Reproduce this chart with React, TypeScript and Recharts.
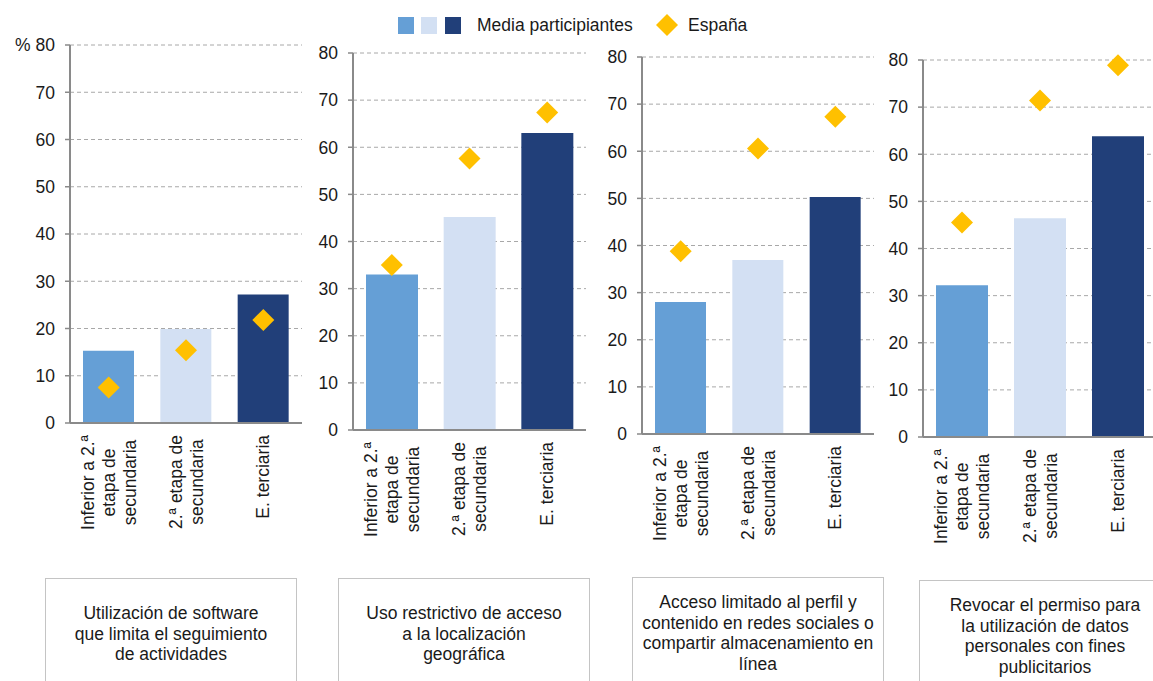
import React from "react";
import {
  ComposedChart,
  Bar,
  Scatter,
  Cell,
  XAxis,
  YAxis,
  CartesianGrid,
} from "recharts";

// categorías (eje X) y sus líneas de etiqueta
const categories = [
  "Inferior a 2.ª etapa de secundaria",
  "2.ª etapa de secundaria",
  "E. terciaria",
];
const categoryLines = [
  ["Inferior a 2.ª", "etapa de", "secundaria"],
  ["2.ª etapa de", "secundaria"],
  ["E. terciaria"],
];

const yTicks = [0, 10, 20, 30, 40, 50, 60, 70, 80];

// Media participiantes / España, por panel
const mediaSoftware = [15.3, 19.9, 27.2];
const espanaSoftware = [7.5, 15.4, 21.8];

const mediaLocalizacion = [33.0, 45.2, 63.0];
const espanaLocalizacion = [35.0, 57.6, 67.4];

const mediaPerfil = [28.0, 36.9, 50.3];
const espanaPerfil = [38.8, 60.6, 67.3];

const mediaPublicidad = [32.2, 46.4, 63.8];
const espanaPublicidad = [45.5, 71.4, 78.9];

const panelTitles = [
  ["Utilización de software", "que limita el seguimiento", "de actividades"],
  ["Uso restrictivo de acceso", "a la localización", "geográfica"],
  [
    "Acceso limitado al perfil y",
    "contenido en redes sociales o",
    "compartir almacenamiento en",
    "línea",
  ],
  [
    "Revocar el permiso para",
    "la utilización de datos",
    "personales con fines",
    "publicitarios",
  ],
];

const legendLabels = ["Media participiantes", "España"];

const barColors = ["#659fd6", "#d3e0f3", "#213f79"];
const diamondColor = "#ffc000";
const axisColor = "#8a8a8a";
const textColor = "#1a1a1a";
const FONT = '"Liberation Sans", Arial, sans-serif';
const FS = 17.5;

let ctx: CanvasRenderingContext2D | null = null;
const measure = (s: string) => {
  if (!ctx) ctx = document.createElement("canvas").getContext("2d");
  if (!ctx) return s.length * 8.5;
  ctx.font = `${FS}px "Liberation Sans"`;
  return ctx.measureText(s).width;
};

const XTick = (props: any) => {
  const { x, y, payload } = props;
  const idx = categories.indexOf(payload.value);
  const lines = categoryLines[idx] || [payload.value];
  const maxW = Math.max(...lines.map(measure));
  const lh = 21;
  return (
    <g transform={`translate(${x},${y})`}>
      {lines.map((l, i) => (
        <text
          key={i}
          transform="rotate(-90)"
          x={-(12 + maxW / 2)}
          y={(i - (lines.length - 1) / 2) * lh}
          textAnchor="middle"
          dominantBaseline="central"
          fontSize={FS}
          fontFamily={FONT}
          fill={textColor}
        >
          {l}
        </text>
      ))}
    </g>
  );
};

const makeYTick = (showPercent: boolean) => (props: any) => {
  const { x, y, payload } = props;
  const label =
    showPercent && payload.value === 80 ? "% 80" : String(payload.value);
  return (
    <text
      x={x}
      y={y}
      dy="0.36em"
      textAnchor="end"
      fontSize={FS}
      fontFamily={FONT}
      fill={textColor}
    >
      {label}
    </text>
  );
};

const Diamond = (props: any) => {
  const { cx, cy } = props;
  if (cx == null || cy == null) return null;
  const r = 11;
  return (
    <path
      d={`M${cx},${cy - r} L${cx + r},${cy} L${cx},${cy + r} L${cx - r},${cy} Z`}
      fill={diamondColor}
    />
  );
};

interface PanelProps {
  plotLeft: number;
  plotRight: number;
  plotTop: number;
  plotBottom: number;
  media: number[];
  espana: number[];
  showPercent?: boolean;
}

const CHART_H = 560;
const Y_W = 60;

const Panel: React.FC<PanelProps> = ({
  plotLeft,
  plotRight,
  plotTop,
  plotBottom,
  media,
  espana,
  showPercent = false,
}) => {
  const data = categories.map((c, i) => ({
    name: c,
    media: media[i],
    espana: espana[i],
  }));
  const left = plotLeft - Y_W;
  return (
    <div style={{ position: "absolute", left, top: 0 }}>
      <ComposedChart
        width={plotRight - left}
        height={CHART_H}
        data={data}
        margin={{ top: plotTop, right: 0, bottom: 0, left: 0 }}
        barCategoryGap={13}
      >
        <CartesianGrid
          vertical={false}
          stroke="#a8a8a8"
          strokeDasharray="4 3"
        />
        <XAxis
          dataKey="name"
          type="category"
          height={CHART_H - plotBottom}
          axisLine={{ stroke: axisColor, strokeWidth: 2 }}
          tickLine={false}
          tickSize={0}
          tickMargin={0}
          interval={0}
          tick={<XTick />}
        />
        <YAxis
          width={Y_W}
          domain={[0, 80]}
          ticks={yTicks}
          interval={0}
          axisLine={{ stroke: axisColor, strokeWidth: 2 }}
          tickLine={{ stroke: axisColor, strokeWidth: 1.5 }}
          tickSize={5}
          tickMargin={10}
          tick={makeYTick(showPercent)}
        />
        <Bar dataKey="media" isAnimationActive={false}>
          {data.map((_, i) => (
            <Cell key={i} fill={barColors[i]} />
          ))}
        </Bar>
        <Scatter
          dataKey="espana"
          isAnimationActive={false}
          shape={<Diamond />}
        />
      </ComposedChart>
    </div>
  );
};

const boxes = [
  { left: 45, top: 578 },
  { left: 338, top: 578 },
  { left: 632, top: 577 },
  { left: 919, top: 580 },
];

const App: React.FC = () => {
  return (
    <div
      style={{
        position: "absolute",
        left: 0,
        top: 0,
        width: 1153,
        height: 681,
        overflow: "hidden",
        background: "#fff",
        fontFamily: FONT,
        color: textColor,
      }}
    >
      {/* leyenda */}
      <div style={{ position: "absolute", left: 0, top: 0 }}>
        {barColors.map((c, i) => (
          <div
            key={i}
            style={{
              position: "absolute",
              left: [398, 421, 445][i],
              top: 17,
              width: 16,
              height: 17,
              background: c,
            }}
          />
        ))}
        <div
          style={{
            position: "absolute",
            left: 477,
            top: 15,
            fontSize: FS,
            lineHeight: "20px",
            whiteSpace: "nowrap",
          }}
        >
          {legendLabels[0]}
        </div>
        <svg
          style={{ position: "absolute", left: 656, top: 14 }}
          width={22}
          height={22}
        >
          <path d="M11,0 L22,11 L11,22 L0,11 Z" fill={diamondColor} />
        </svg>
        <div
          style={{
            position: "absolute",
            left: 688,
            top: 15,
            fontSize: FS,
            lineHeight: "20px",
            whiteSpace: "nowrap",
          }}
        >
          {legendLabels[1]}
        </div>
      </div>

      <Panel
        plotLeft={70}
        plotRight={302}
        plotTop={45}
        plotBottom={423}
        media={mediaSoftware}
        espana={espanaSoftware}
        showPercent
      />
      <Panel
        plotLeft={353}
        plotRight={586}
        plotTop={53}
        plotBottom={430}
        media={mediaLocalizacion}
        espana={espanaLocalizacion}
      />
      <Panel
        plotLeft={642}
        plotRight={874}
        plotTop={57}
        plotBottom={434}
        media={mediaPerfil}
        espana={espanaPerfil}
      />
      <Panel
        plotLeft={923}
        plotRight={1157}
        plotTop={60}
        plotBottom={437}
        media={mediaPublicidad}
        espana={espanaPublicidad}
      />

      {panelTitles.map((lines, i) => (
        <div
          key={i}
          style={{
            position: "absolute",
            left: boxes[i].left,
            top: boxes[i].top,
            width: 252,
            height: 112,
            border: "1.5px solid #c4c4c4",
            boxSizing: "border-box",
            display: "flex",
            flexDirection: "column",
            justifyContent: "center",
            alignItems: "center",
            fontSize: FS,
            lineHeight: "20.5px",
            textAlign: "center",
          }}
        >
          {lines.map((l, j) => (
            <div key={j} style={{ whiteSpace: "nowrap" }}>
              {l}
            </div>
          ))}
        </div>
      ))}
    </div>
  );
};

export default App;
